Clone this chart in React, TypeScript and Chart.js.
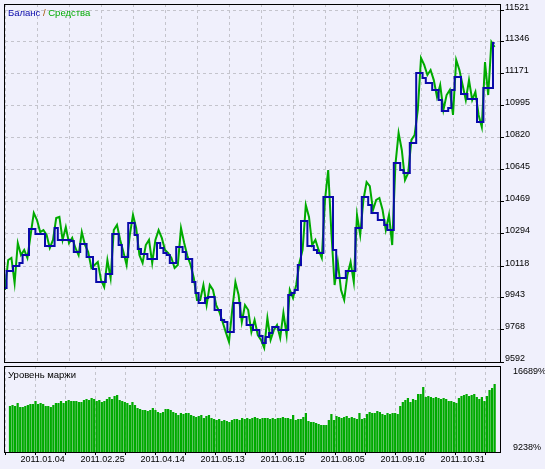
import React, { useEffect, useRef } from 'react';
import { Chart, registerables } from 'chart.js';

Chart.register(...registerables);

// ---------- DATA ----------
const dateLabels = ['2011.01.04', '2011.02.25', '2011.04.14', '2011.05.13', '2011.06.15', '2011.08.05', '2011.09.16', '2011.10.31'];
const priceTicks = [9592, 9768, 9943, 10118, 10294, 10469, 10645, 10820, 10995, 11171, 11346, 11521];
const marginTicks = [9238, 16689];

const balance = [
  9998, 10091, 10091, 10118, 10118, 10135, 10178, 10178, 10321, 10321,
  10293, 10293, 10293, 10228, 10228, 10228, 10326, 10261, 10261, 10261,
  10261, 10255, 10195, 10195, 10239, 10239, 10167, 10167, 10102, 10030,
  10030, 10030, 10074, 10074, 10293, 10293, 10233, 10167, 10167, 10354,
  10354, 10288, 10211, 10184, 10184, 10156, 10156, 10156, 10244, 10217,
  10189, 10178, 10135, 10135, 10222, 10222, 10195, 10156, 10156, 10030,
  9970, 9915, 9915, 9943, 9948, 9948, 9877, 9877, 9822, 9811,
  9756, 9756, 9915, 9915, 9839, 9839, 9795, 9795, 9767, 9767,
  9734, 9696, 9729, 9751, 9784, 9784, 9767, 9767, 9767, 9959,
  9970, 9987, 10124, 10365, 10365, 10228, 10228, 10206, 10189, 10189,
  10496, 10496, 10496, 10206, 10052, 10052, 10052, 10091, 10091, 10091,
  10326, 10326, 10496, 10496, 10452, 10409, 10409, 10370, 10370, 10343,
  10315, 10315, 10683, 10683, 10644, 10628, 10628, 10792, 10792, 11176,
  11176, 11148, 11121, 11121, 11083, 11083, 11028, 10967, 10967, 10984,
  11083, 11154, 11154, 11061, 11061, 11033, 11033, 11033, 10907, 10907,
  11094, 11094, 11094, 11340,
];

const equity = [
  9987, 10151, 10162, 10025, 10244, 10178, 10206, 10162, 10288, 10409,
  10370, 10304, 10315, 10288, 10217, 10261, 10381, 10387, 10261, 10332,
  10244, 10272, 10217, 10178, 10304, 10233, 10195, 10107, 10124, 10140,
  10041, 10003, 10151, 10052, 10315, 10343, 10261, 10195, 10124, 10288,
  10398, 10326, 10178, 10135, 10233, 10261, 10135, 10261, 10315, 10272,
  10206, 10189, 10162, 10107, 10124, 10326, 10244, 10173, 10124, 10052,
  9932, 9932, 10014, 9904, 10014, 9987, 9904, 9866, 9811, 9756,
  9702, 9877, 10030, 9959, 9811, 9904, 9877, 9756, 9822, 9740,
  9713, 9669, 9833, 9713, 9767, 9795, 9724, 9861, 9740, 9987,
  9943, 10014, 10135, 10206, 10452, 10387, 10233, 10261, 10206, 10162,
  10480, 10644, 10299, 10014, 10140, 9987, 9932, 10069, 10140, 10030,
  10398, 10288, 10480, 10578, 10556, 10425, 10480, 10491, 10425, 10315,
  10398, 10233, 10672, 10847, 10754, 10589, 10628, 10809, 10836, 10973,
  11258, 11220, 11165, 11192, 11137, 11044, 11110, 10973, 11055, 11083,
  10946, 11247, 11192, 11110, 11028, 11137, 11028, 11072, 10946, 10880,
  11236, 11055, 11346, 11318,
];

const marginLevel = [
  13648, 13746, 13648, 13942, 13550, 13550, 13648, 13746, 13844, 13844,
  14138, 13844, 13942, 13844, 13648, 13648, 13550, 13746, 13942, 13942,
  14138, 13942, 14138, 14236, 14138, 14138, 14138, 14040, 14040, 14236,
  14334, 14236, 14432, 14334, 14138, 14236, 14040, 14138,
  14334, 14530, 14334, 14628, 14726, 14236, 14138, 14040, 13942, 13746,
  14040, 13746, 13452, 13354, 13256, 13256, 13158, 13256, 13452, 13256,
  13060, 12962, 13060, 13354, 13354, 13256, 13060, 12962, 12766, 12962,
  12864, 12962, 12962, 12766, 12668, 12570, 12668, 12766, 12472, 12668,
  12766, 12472, 12374, 12276, 12374, 12178, 12276, 12178, 12080, 12276,
  12374, 12374, 12276, 12472, 12374, 12472, 12374, 12472, 12570, 12472,
  12374, 12472, 12472,
  12472, 12374, 12472, 12374, 12472, 12472, 12570, 12472, 12472, 12374,
  12766, 12276, 12374, 12374, 12570, 12962, 12178, 12080, 12080, 11982,
  11884, 11786, 11786, 11786, 12276, 12864, 12276, 12668, 12570, 12472,
  12570, 12668, 12472, 12570, 12472, 12374, 12962, 12374, 12472, 12864,
  13060, 12962, 12962, 13158, 13060, 12864, 12766, 12962, 12864, 12962,
  12962, 12864, 13648, 14040, 14236, 14432, 14040, 14334, 14236, 14824,
  14824, 15510, 14530, 14628, 14530, 14432, 14530, 14432, 14334, 14432,
  14334, 14138, 14138, 14040, 13942, 14432, 14628, 14726, 14824, 14628,
  14726, 14824, 14530, 14334, 14530, 14138, 14628, 15216, 15412, 15804,
];

// ---------- STYLE ----------
const BG = 'rgb(240,240,252)';
const GRID = '#c4c4cc';
const BLUE = '#0a0aaa';
const GREEN = '#00aa00';
const FONT = '"Liberation Sans", Arial, sans-serif';
const DASH = [3, 3];
const X_MAX = 154.6875;
const gridSteps = [0, 10, 20, 30, 40, 50, 60, 70, 80, 90, 100, 110, 120, 130, 140, 150];

Chart.defaults.font.family = FONT;
Chart.defaults.font.size = 9;

function zeroPad(s: any) {
  s.paddingTop = 0;
  s.paddingBottom = 0;
  s.paddingLeft = 0;
  s.paddingRight = 0;
}

const framePlugin = {
  id: 'frame',
  afterDraw(chart: any) {
    const { ctx, chartArea: a } = chart;
    ctx.save();
    ctx.setLineDash([]);
    ctx.strokeStyle = '#000';
    ctx.lineWidth = 1;
    ctx.strokeRect(a.left - 0.5, a.top + 0.5, a.right - a.left + 1, a.bottom - a.top);
    ctx.restore();
  },
};

function titlePlugin(parts: { text: string; color: string }[]) {
  return {
    id: 'panelTitle',
    afterDraw(chart: any) {
      const { ctx, chartArea: a } = chart;
      ctx.save();
      ctx.font = '9.5px ' + FONT;
      ctx.textBaseline = 'middle';
      ctx.textAlign = 'left';
      let x = a.left + 3;
      const y = a.top + 9;
      for (const p of parts) {
        ctx.fillStyle = p.color;
        ctx.fillText(p.text, x, y);
        x += ctx.measureText(p.text).width;
      }
      ctx.restore();
    },
  };
}

export default function App() {
  const topRef = useRef<HTMLCanvasElement>(null);
  const botRef = useRef<HTMLCanvasElement>(null);

  useEffect(() => {
    document.body.style.margin = '0';
    const xGrid = {
      type: 'linear' as const,
      min: 0,
      max: X_MAX,
      afterBuildTicks: (s: any) => {
        s.ticks = gridSteps.map((v) => ({ value: v }));
      },
    };

    const top = new Chart(topRef.current!, {
      type: 'line',
      data: {
        datasets: [
          {
            label: 'Баланс',
            data: balance.map((v, i) => ({ x: i, y: v })),
            borderColor: BLUE,
            borderWidth: 2,
            pointRadius: 0,
            stepped: 'middle',
            fill: false,
          },
          {
            label: 'Средства',
            data: equity.map((v, i) => ({ x: i, y: v })),
            borderColor: GREEN,
            borderWidth: 2,
            pointRadius: 0,
            tension: 0,
            fill: false,
          },
        ],
      },
      options: {
        animation: false,
        responsive: false,
        events: [],
        layout: { padding: { left: 5, top: 4, right: 0, bottom: 0 } },
        plugins: { legend: { display: false }, tooltip: { enabled: false } },
        scales: {
          x: {
            ...xGrid,
            ticks: { display: false },
            grid: { color: GRID, borderDash: DASH, drawTicks: false } as any,
            border: { display: false, dash: DASH },
            afterFit: (s: any) => {
              s.height = 2;
              zeroPad(s);
            },
          },
          y: {
            position: 'right',
            min: 9592,
            max: 11554,
            afterBuildTicks: (s: any) => {
              s.ticks = priceTicks.map((v) => ({ value: v }));
            },
            ticks: {
              color: '#000',
              padding: 1,
              labelOffset: -3,
              font: { family: FONT, size: 9 },
              callback: (v: any) => String(v),
            },
            grid: { color: GRID, borderDash: DASH, tickLength: 4, tickColor: '#000', tickBorderDash: [] } as any,
            border: { display: false, dash: DASH },
            afterFit: (s: any) => {
              s.width = 45;
              zeroPad(s);
            },
          },
        },
      },
      plugins: [
        framePlugin,
        titlePlugin([
          { text: 'Баланс', color: BLUE },
          { text: ' / ', color: '#a05000' },
          { text: 'Средства', color: GREEN },
        ]),
      ],
    });

    const bottom = new Chart(botRef.current!, {
      type: 'bar',
      data: {
        datasets: [
          {
            label: 'Уровень маржи',
            data: marginLevel.map((v, i) => ({ x: i, y: v })),
            xAxisID: 'xb',
            backgroundColor: GREEN,
            borderWidth: 0,
            barPercentage: 0.88,
            categoryPercentage: 1,
          },
        ],
      },
      options: {
        animation: false,
        responsive: false,
        events: [],
        layout: { padding: { left: 5, top: 3, right: 0, bottom: 0 } },
        plugins: { legend: { display: false }, tooltip: { enabled: false } },
        scales: {
          x: {
            ...xGrid,
            ticks: {
              color: '#000',
              align: 'start',
              padding: -1,
              autoSkip: false,
              maxRotation: 0,
              minRotation: 0,
              font: { family: FONT, size: 9 },
              callback: (v: any) => (v % 20 === 0 ? dateLabels[v / 20] : ''),
            },
            grid: { color: GRID, borderDash: DASH, tickLength: 3, tickColor: '#000', tickBorderDash: [] } as any,
            border: { display: false, dash: DASH },
            afterFit: (s: any) => {
              s.height = 17;
              zeroPad(s);
            },
          },
          xb: {
            type: 'linear',
            display: false,
            offset: false,
            min: -1.96,
            max: 192.1,
            grid: { offset: false },
          },
          y: {
            position: 'right',
            min: 9140,
            max: 17571,
            beginAtZero: false,
            afterBuildTicks: (s: any) => {
              s.ticks = marginTicks.map((v) => ({ value: v }));
            },
            ticks: {
              color: '#000',
              padding: 5,
              labelOffset: -3,
              font: { family: FONT, size: 9 },
              callback: (v: any) => v + '%',
            },
            grid: { display: false },
            border: { display: false },
            afterFit: (s: any) => {
              s.width = 45;
              zeroPad(s);
            },
          },
        },
      },
      plugins: [framePlugin, titlePlugin([{ text: 'Уровень маржи', color: '#000' }])],
    });

    return () => {
      top.destroy();
      bottom.destroy();
    };
  }, []);

  return (
    <div style={{ position: 'absolute', left: 0, top: 0, width: 545, height: 469, background: BG }}>
      <canvas
        ref={topRef}
        width={545}
        height={364}
        style={{ position: 'absolute', left: 0, top: 0, width: 545, height: 364 }}
      />
      <canvas
        ref={botRef}
        width={545}
        height={106}
        style={{ position: 'absolute', left: 0, top: 363, width: 545, height: 106 }}
      />
    </div>
  );
}
